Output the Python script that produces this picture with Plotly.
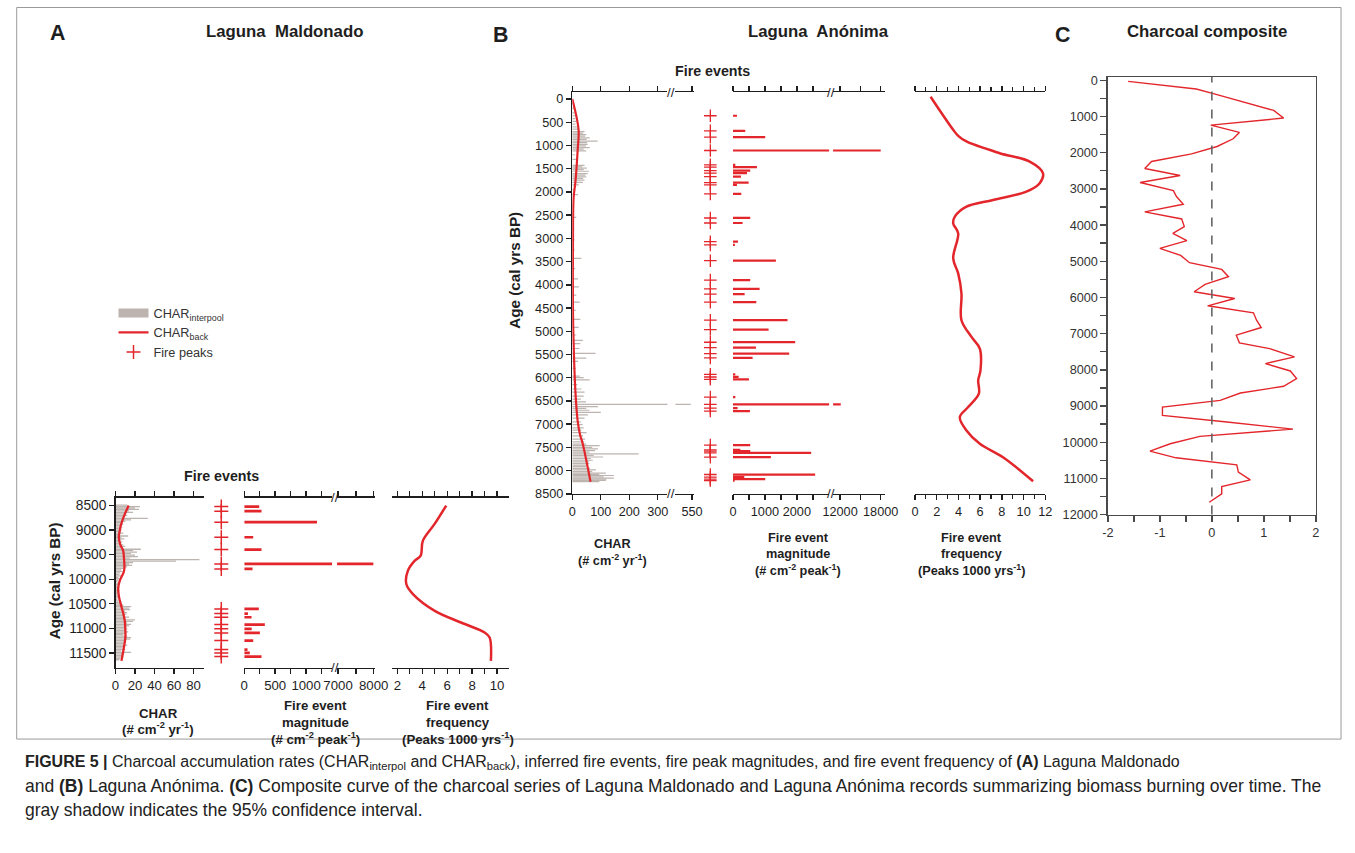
import plotly.graph_objects as go

W, H = 1355, 853
FONT = "Liberation Sans, Arial, sans-serif"
RED = "#e3262b"
GREY = "#bdb4af"
INK = "#1e1e1e"

# ---------------- Panel A : Laguna Maldonado ----------------
a_char_age = [8490, 8520, 8550, 8580, 8610, 8640, 8670, 8700, 8730, 8760, 8790,
              8820, 8850, 8880, 8910, 8940, 8970, 9000, 9030, 9060, 9090,
              9120, 9150, 9180, 9210, 9240, 9270, 9300, 9330, 9360, 9390,
              9420, 9450, 9480, 9510, 9540, 9570, 9600, 9630, 9660, 9690,
              9720, 9750, 9780, 9810, 9840, 9870, 9900, 9930, 9960, 9990,
              10020, 10050, 10080, 10110, 10140, 10170, 10200, 10230, 10260, 10290,
              10320, 10350, 10380, 10410, 10440, 10470, 10500, 10530, 10560, 10590,
              10620, 10650, 10680, 10710, 10740, 10770, 10800, 10830, 10860, 10890,
              10920, 10950, 10980, 11010, 11040, 11070, 11100, 11130, 11160, 11190,
              11220, 11250, 11280, 11310, 11340, 11370, 11400, 11430, 11460, 11490,
              11520, 11550, 11580, 11610, 11640]
a_char_val = [12, 25, 20, 24, 14, 18, 10, 12, 8, 33, 16,
              10, 6, 8, 5, 7, 4, 6, 5, 8, 4,
              13, 6, 9, 5, 7, 4, 8, 10, 6, 26,
              18, 22, 16, 20, 23, 15, 86, 62, 18, 14,
              17, 12, 9, 6, 7, 5, 4, 6, 3, 4,
              3, 2, 4, 3, 2, 3, 2, 4, 3, 2,
              3, 4, 3, 2, 3, 4, 5, 8, 16, 14,
              15, 10, 12, 11, 8, 14, 10, 20, 18, 12,
              16, 14, 10, 12, 9, 13, 11, 8, 12, 16,
              15, 10, 11, 8, 12, 9, 7, 10, 6, 16,
              9, 7, 8, 5, 4]
a_back_age = [8500, 8700, 8900, 9010, 9146, 9300, 9418, 9600, 9826, 10030, 10180,
              10350, 10507, 10700, 10847, 11000, 11187, 11400, 11663]
a_back_val = [13.5, 9, 5.5, 4.4, 3.4, 5, 7.8, 8.8, 8.8, 4.4, 2.8,
              3.5, 5.4, 8, 9.5, 10, 10.1, 8.5, 6.1]
a_peak_age = [8520, 8615, 8839, 9145, 9396, 9688, 9790, 10605, 10700, 10774, 10924,
              11010, 11093, 11250, 11433, 11500, 11575]
a_peak_mag = [242, 279, 1177, 145, 279, 7990, 134, 236, 60, 118, 333,
              120, 253, 145, 53, 90, 279]
a_freq_age = [8500, 8874, 9214, 9520, 9622, 9826, 10098, 10302, 10643, 10881, 11085, 11187, 11663]
a_freq_val = [5.92, 4.99, 4.05, 3.87, 3.4, 2.85, 2.72, 3.25, 5.0, 7.1, 9.0, 9.4, 9.5]

# ---------------- Panel B : Laguna Anónima ----------------
b_char_age = [100, 200, 300, 360, 420, 480, 540, 600, 650,
              700, 735, 767, 800, 837, 870, 907, 940, 976, 1010, 1046, 1080, 1116,
              1200, 1300,
              1430, 1460, 1486, 1520, 1555, 1604, 1640, 1674, 1710, 1744, 1793, 1848,
              1950, 2058, 2300, 2546, 2800, 3034, 3250, 3432, 3650, 3871, 4045, 4220,
              4373, 4550, 4743, 4917, 5080, 5196, 5266, 5371, 5475, 5580, 5650, 5800,
              5964, 5999, 6047, 6150, 6243, 6312, 6396, 6460, 6520, 6575, 6620, 6661,
              6700, 6745, 6800, 6870, 6950, 7010, 7080, 7130, 7184, 7250, 7324, 7380,
              7428, 7463, 7500, 7533, 7568, 7600, 7638, 7670, 7707, 7740, 7777, 7810,
              7847, 7880, 7916, 7950, 7986, 8020, 8056, 8080, 8105, 8135, 8161, 8185,
              8210, 8235]
b_char_val = [6, 9, 8, 12, 10, 14, 11, 16, 22,
              43, 38, 49, 45, 61, 50, 89, 52, 54, 48, 61, 40, 49,
              10, 14,
              43, 35, 51, 40, 58, 54, 46, 49, 38, 43, 37, 23,
              8, 20, 6, 14, 7, 8, 9, 32, 10, 20, 23, 14,
              26, 12, 28, 22, 14, 37, 28, 25, 82, 49, 20, 12,
              26, 40, 61, 18, 32, 43, 40, 30, 48, 545, 90, 49,
              60, 100, 55, 43, 30, 36, 40, 32, 50, 38, 45, 42,
              49, 96, 70, 90, 80, 60, 233, 75, 108, 65, 72, 58,
              60, 55, 49, 62, 83, 70, 118, 95, 146, 110, 146, 120,
              118, 95]
b_back_age = [0, 660, 1080, 1780, 2130, 3170, 4570, 5270, 6310, 6940, 7220, 7430, 8240]
b_back_val = [0, 22, 19, 11, 4.5, 2.3, 2.3, 4.6, 11, 19, 27, 37, 64]
b_peak_age = [360, 684, 821, 1108, 1417, 1468, 1540, 1597, 1669, 1799, 1849, 2043,
              2561, 2669, 3072, 3140, 3481, 3899, 4086, 4201, 4373, 4762, 4963, 5236,
              5351, 5481, 5574, 5927, 5984, 6034, 6416, 6575, 6653, 6718, 7451, 7552,
              7580, 7617, 7710, 8084, 8142, 8185, 8214]
b_peak_mag = [125, 385, 1010, 18000, 73, 750, 540, 440, 250, 490, 125, 260,
              540, 300, 156, 60, 1344, 540, 833, 365, 730, 1708, 1115, 1948,
              719, 1760, 615, 73, 177, 500, 73, 12100, 146, 531, 540, 230,
              540, 2448, 1188, 2573, 354, 1010, 52]
b_freq_age = [-50, 662, 792, 914, 1166, 1346, 1597, 1812, 1994, 2173, 2317, 2533, 2676,
              2891, 3431, 3754, 4186, 4762, 5122, 5373, 5841, 6056, 6343, 6632, 6848,
              7135, 7422, 7711, 8229]
b_freq_val = [1.44, 3.52, 3.98, 4.74, 7.8, 10.56, 11.78, 11.48, 10.25, 7.19, 4.74, 3.67, 3.52,
              3.98, 3.52, 3.98, 4.28, 4.28, 5.2, 5.97, 6.03, 5.82, 5.88, 4.9, 4.13,
              4.74, 5.97, 8.1, 10.87]

# ---------------- Panel C : Charcoal composite ----------------
comp_age = [28, 240, 369, 831, 1043, 1237, 1440, 1615, 1828, 2031, 2243, 2437, 2631, 2825,
            3046, 3212, 3425, 3637, 3831, 4043, 4228, 4431, 4643, 4837, 5040, 5225, 5428,
            5640, 5843, 6028, 6231, 6425, 6628, 6831, 7043, 7255, 7412, 7643, 7828, 8031,
            8243, 8455, 8640, 8843, 9028, 9258, 9443, 9637, 9840, 10043, 10246, 10431,
            10625, 10828, 11040, 11225, 11428, 11658]
comp_val = [-1.61, -0.30, 0.03, 1.19, 1.38, -0.02, 0.53, 0.41, 0.10, -0.39, -1.16, -1.29,
            -0.61, -1.38, -0.74, -0.68, -0.55, -1.29, -0.58, -0.53, -0.75, -0.48, -1.00,
            -0.60, -0.43, 0.19, 0.32, -0.13, -0.34, 0.44, -0.08, 0.80, 0.86, 0.95, 0.47,
            0.53, 1.11, 1.59, 1.03, 1.51, 1.63, 1.38, 0.55, 0.16, -0.95, -0.95, 0.29, 1.56,
            -0.23, -0.80, -1.19, -0.69, 0.48, 0.51, 0.74, 0.19, 0.19, -0.05]

# tick labels
a_age_ticks = [8500, 9000, 9500, 10000, 10500, 11000, 11500]
b_age_ticks = [0, 500, 1000, 1500, 2000, 2500, 3000, 3500, 4000, 4500, 5000, 5500,
               6000, 6500, 7000, 7500, 8000, 8500]
c_age_ticks = [0, 1000, 2000, 3000, 4000, 5000, 6000, 7000, 8000, 9000, 10000, 11000, 12000]
c_x_ticks = [-2, -1, 0, 1, 2]
c_x_labels = ["-2", "-1", "0", "1", "2"]

# ---------------- layout geometry (target pixel positions, adjusted for capture) ----------------
SX, OX, SY, OY = 0.982, 12.3, 0.985, 4.5
FS = 1 / 0.983


def PX(px):
    return (px - OX) / SX


def PY(py):
    return (py - OY) / SY


def xdom(p0, p1):
    return [PX(p0) / W, PX(p1) / W]


def ydom(top, bottom):
    return [1 - PY(bottom) / H, 1 - PY(top) / H]


def tf(size, color=INK):
    return dict(family=FONT, size=size * FS, color=color)


def xaxis(dom, rng, yname, tickvals, ticktext=None, size=13):
    d = dict(domain=xdom(*dom), range=rng, anchor=yname, showline=True,
             linecolor=INK, linewidth=1.4, mirror="ticks", ticks="outside",
             ticklen=5, tickwidth=1.4, tickcolor=INK, tickmode="array",
             tickvals=tickvals, tickfont=tf(size),
             showgrid=False, zeroline=False, fixedrange=True)
    d["ticktext"] = ticktext if ticktext is not None else [str(v) for v in tickvals]
    return d


def yhidden(dom, rng, xname):
    return dict(domain=ydom(*dom), range=rng, anchor=xname, visible=False,
                showgrid=False, zeroline=False, fixedrange=True)


A_Y = (497, 667)
A_RNG = [11806, 8337]
B_Y = (92.7, 493.3)
B_RNG = [8500, -143]

layout = dict(width=W, height=H, margin=dict(l=0, r=0, t=0, b=0),
              paper_bgcolor="white", plot_bgcolor="rgba(0,0,0,0)",
              barmode="overlay", showlegend=True, hovermode=False,
              font=dict(family=FONT, color=INK),
              legend=dict(x=PX(112) / W, y=1 - PY(298) / H, xanchor="left", yanchor="top",
                          font=tf(12.5, "#333"),
                          bgcolor="rgba(0,0,0,0)", tracegroupgap=0))

# Panel A axes
layout["xaxis"] = xaxis((114, 203), [0, 91], "y", [0, 20, 40, 60, 80])
layout["yaxis"] = dict(domain=ydom(*A_Y), range=A_RNG, anchor="x", showline=True,
                       linecolor=INK, linewidth=1.4, ticks="outside", ticklen=5,
                       tickwidth=1.4, tickcolor=INK, tickmode="array",
                       tickvals=a_age_ticks, ticktext=[str(v) for v in a_age_ticks],
                       tickfont=tf(13.5), showgrid=False, zeroline=False, fixedrange=True)
layout["xaxis2"] = dict(domain=xdom(205, 235), range=[-1, 1], anchor="y2", visible=False)
layout["yaxis2"] = yhidden(A_Y, A_RNG, "x2")
layout["xaxis3"] = xaxis((243, 331), [0, 1420], "y3", [0, 250, 500, 750, 1000, 1250],
                         ["0", "", "500", "", "1000", ""])
layout["yaxis3"] = yhidden(A_Y, A_RNG, "x3")
layout["xaxis4"] = xaxis((336, 374), [6972, 8036], "y4", [7000, 7500, 8000], ["7000", "", "8000"])
layout["yaxis4"] = yhidden(A_Y, A_RNG, "x4")
layout["xaxis5"] = xaxis((391, 508), [1.57, 10.93], "y5", [2, 3, 4, 5, 6, 7, 8, 9, 10],
                         ["2", "", "4", "", "6", "", "8", "", "10"])
layout["yaxis5"] = yhidden(A_Y, A_RNG, "x5")

# Panel B axes
layout["xaxis6"] = xaxis((571.7, 667), [0, 334], "y6", [0, 100, 200, 300], size=12.5)
layout["yaxis6"] = dict(domain=ydom(*B_Y), range=B_RNG, anchor="x6", showline=True,
                        linecolor=INK, linewidth=1.4, ticks="outside", ticklen=5,
                        tickwidth=1.4, tickcolor=INK, tickmode="array",
                        tickvals=b_age_ticks, ticktext=[str(v) for v in b_age_ticks],
                        tickfont=tf(12.5), showgrid=False, zeroline=False, fixedrange=True)
layout["xaxis7"] = xaxis((675, 693.3), [480, 557], "y7", [550], size=12.5)
layout["yaxis7"] = yhidden(B_Y, B_RNG, "x7")
layout["xaxis8"] = dict(domain=xdom(695, 725), range=[-1, 1], anchor="y8", visible=False)
layout["yaxis8"] = yhidden(B_Y, B_RNG, "x8")
layout["xaxis9"] = xaxis((732.7, 829), [0, 3010], "y9", [0, 500, 1000, 1500, 2000, 2500],
                         ["0", "", "1000", "", "2000", ""], size=12.5)
layout["yaxis9"] = yhidden(B_Y, B_RNG, "x9")
layout["xaxis10"] = xaxis((833, 885), [10968, 18634], "y10", [12000, 15000, 18000],
                          ["12000", "", "18000"], size=12.5)
layout["yaxis10"] = yhidden(B_Y, B_RNG, "x10")
layout["xaxis11"] = xaxis((915, 1045.7), [0, 12], "y11", [0, 2, 4, 6, 8, 10, 12], size=12.5)
layout["xaxis11"]["minor"] = dict(dtick=1, ticks="outside", ticklen=4, tickcolor=INK, tickwidth=1.2)
layout["yaxis11"] = yhidden(B_Y, B_RNG, "x11")

# Panel C axes
layout["xaxis12"] = dict(domain=xdom(1108.3, 1316.7), range=[-2, 2], anchor="y12",
                         showline=True, linecolor="#4a4a4a", linewidth=1.4, mirror=True,
                         ticks="outside", ticklen=6, tickwidth=1.4, tickcolor="#4a4a4a",
                         tickmode="array", tickvals=c_x_ticks, ticktext=c_x_labels,
                         minor=dict(tickvals=[-1.5, -0.5, 0.5, 1.5], ticks="outside",
                                    ticklen=6, tickwidth=1.4, tickcolor="#4a4a4a"),
                         tickfont=tf(12.5, "#333"),
                         showgrid=False, zeroline=False, fixedrange=True)
layout["yaxis12"] = dict(domain=ydom(77.3, 514), range=[12000, -93], anchor="x12",
                         showline=True, linecolor="#4a4a4a", linewidth=1.4, mirror=True,
                         ticks="outside", ticklen=6, tickwidth=1.4, tickcolor="#4a4a4a",
                         tickmode="array", tickvals=c_age_ticks,
                         ticktext=[str(v) for v in c_age_ticks],
                         minor=dict(dtick=500, tick0=0, ticks="outside", ticklen=6,
                                    tickwidth=1.4, tickcolor="#4a4a4a"),
                         tickfont=tf(12.5, "#333"),
                         showgrid=False, zeroline=False, fixedrange=True)

fig = go.Figure(layout=layout)

cross_a = dict(symbol="cross-thin", size=10, color=RED, line=dict(color=RED, width=1.5))
cross_b = dict(symbol="cross-thin", size=9, color=RED, line=dict(color=RED, width=1.3))

# ---- legend key for the grey CHAR bars (wide swatch, as in the original key) ----
fig.add_trace(go.Scatter(x=[None], y=[None], mode="lines",
                         line=dict(color=GREY, width=9),
                         name="CHAR<sub>interpool</sub>", xaxis="x", yaxis="y"))

# ---- Panel A traces ----
fig.add_trace(go.Bar(x=a_char_val, y=a_char_age, orientation="h", width=26,
                     marker=dict(color=GREY, line=dict(width=0)), showlegend=False,
                     xaxis="x", yaxis="y"))
fig.add_trace(go.Scatter(x=a_back_val, y=a_back_age, mode="lines",
                         line=dict(color=RED, width=2.3, shape="spline"),
                         name="CHAR<sub>back</sub>", xaxis="x", yaxis="y"))
fig.add_trace(go.Scatter(x=[0] * len(a_peak_age), y=a_peak_age, mode="markers",
                         marker=cross_a, name="Fire peaks", xaxis="x2", yaxis="y2"))
for xa, ya in (("x3", "y3"), ("x4", "y4")):
    fig.add_trace(go.Bar(x=a_peak_mag, y=a_peak_age, orientation="h", width=55,
                         marker=dict(color=RED, line=dict(width=0)), showlegend=False,
                         xaxis=xa, yaxis=ya))
fig.add_trace(go.Scatter(x=a_freq_val, y=a_freq_age, mode="lines",
                         line=dict(color=RED, width=2.5, shape="spline"),
                         showlegend=False, xaxis="x5", yaxis="y5"))

# ---- Panel B traces ----
for xa, ya in (("x6", "y6"), ("x7", "y7")):
    fig.add_trace(go.Bar(x=b_char_val, y=b_char_age, orientation="h", width=26,
                         marker=dict(color=GREY, line=dict(width=0)), showlegend=False,
                         xaxis=xa, yaxis=ya))
fig.add_trace(go.Scatter(x=b_back_val, y=b_back_age, mode="lines",
                         line=dict(color=RED, width=2.2, shape="spline"),
                         showlegend=False, xaxis="x6", yaxis="y6"))
fig.add_trace(go.Scatter(x=[0] * len(b_peak_age), y=b_peak_age, mode="markers",
                         marker=cross_b, showlegend=False, xaxis="x8", yaxis="y8"))
for xa, ya in (("x9", "y9"), ("x10", "y10")):
    fig.add_trace(go.Bar(x=b_peak_mag, y=b_peak_age, orientation="h", width=48,
                         marker=dict(color=RED, line=dict(width=0)), showlegend=False,
                         xaxis=xa, yaxis=ya))
fig.add_trace(go.Scatter(x=b_freq_val, y=b_freq_age, mode="lines",
                         line=dict(color=RED, width=2.5, shape="spline"),
                         showlegend=False, xaxis="x11", yaxis="y11"))

# ---- Panel C traces ----
fig.add_trace(go.Scatter(x=comp_val, y=comp_age, mode="lines",
                         line=dict(color=RED, width=1.4),
                         showlegend=False, xaxis="x12", yaxis="y12"))

# ---- shapes ----
fig.add_shape(type="line", xref="x12", yref="y12 domain", x0=0, x1=0, y0=0, y1=1,
              line=dict(color="#666", width=1.6, dash="dash"))
fig.add_shape(type="rect", xref="paper", yref="paper",
              x0=max(PX(15), 1) / W, x1=min(PX(1350), W - 1) / W,
              y0=1 - PY(738) / H, y1=1 - max(PY(8), 1) / H,
              line=dict(color="#9a9a9a", width=1))


# ---- text ----
def ann(text, px, py, size, bold=False, angle=0, xanchor="center", color=INK):
    fig.add_annotation(text=f"<b>{text}</b>" if bold else text,
                       x=PX(px) / W, y=1 - PY(py) / H,
                       xref="paper", yref="paper", showarrow=False, textangle=angle,
                       xanchor=xanchor, yanchor="middle", font=tf(size, color))


ann("A", 56, 33, 21, True)
ann("Laguna  Maldonado", 283, 32, 16.5, True)
ann("B", 500, 35, 21, True)
ann("Laguna  Anónima", 818, 32, 16.5, True)
ann("C", 1063, 35, 21, True)
ann("Charcoal composite", 1208, 32, 16.5, True)

ann("Fire events", 220, 475, 14, True)
ann("Fire events", 712, 71, 14, True)

ann("Age (cal yrs BP)", 53, 580, 15, True, angle=-90)
ann("Age (cal yrs BP)", 513, 270, 15, True, angle=-90)

# A axis titles
ann("CHAR", 157, 712, 13, True)
ann("(# cm<sup>-2</sup> yr<sup>-1</sup>)", 157, 727, 13, True)
ann("Fire event", 314, 705, 13, True)
ann("magnitude", 314, 721, 13, True)
ann("(# cm<sup>-2</sup> peak<sup>-1</sup>)", 314, 737, 13, True)
ann("Fire event", 457, 705, 13, True)
ann("frequency", 457, 721, 13, True)
ann("(Peaks 1000 yrs<sup>-1</sup>)", 457, 737, 13, True)

# B axis titles
ann("CHAR", 612, 543, 12.5, True)
ann("(# cm<sup>-2</sup> yr<sup>-1</sup>)", 612, 559, 12.5, True)
ann("Fire event", 798, 537, 12.5, True)
ann("magnitude", 798, 553, 12.5, True)
ann("(# cm<sup>-2</sup> peak<sup>-1</sup>)", 798, 569, 12.5, True)
ann("Fire event", 972, 537, 12.5, True)
ann("frequency", 972, 553, 12.5, True)
ann("(Peaks 1000 yrs<sup>-1</sup>)", 972, 569, 12.5, True)

# axis break marks
for bx, tops in ((333.5, (497, 667)), (671, (92.7, 493.3)), (831, (92.7, 493.3))):
    for by in tops:
        ann("//", bx, by, 13, False)

# caption
cap1 = ("<b>FIGURE 5 |</b> Charcoal accumulation rates (CHAR<sub>interpol</sub> and CHAR<sub>back</sub>), "
        "inferred fire events, fire peak magnitudes, and fire event frequency of <b>(A)</b> Laguna Maldonado")
cap2 = ("and <b>(B)</b> Laguna Anónima. <b>(C)</b> Composite curve of the charcoal series of Laguna "
        "Maldonado and Laguna Anónima records summarizing biomass burning over time. The")
cap3 = "gray shadow indicates the 95% confidence interval."
ann(cap1, 21, 761, 15.7, xanchor="left", color="#222")
ann(cap2, 21, 785, 17.2, xanchor="left", color="#222")
ann(cap3, 21, 809, 17.2, xanchor="left", color="#222")

fig.write_html("out.html", config={"displayModeBar": False, "staticPlot": True},
               post_script="document.body.style.margin='0';document.body.style.overflow='hidden';")
